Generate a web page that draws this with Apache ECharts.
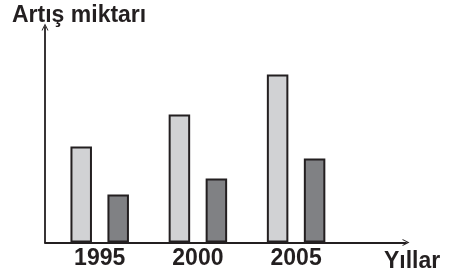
<!DOCTYPE html>
<html>
<head>
    <meta charset="utf-8">
    <title>Artış miktarı</title>
    <script src="https://cdn.jsdelivr.net/npm/echarts@6/dist/echarts.min.js"></script>
    <style>
        html, body { margin: 0; padding: 0; background: #fff; }
        #main { width: 449px; height: 280px; }
    </style>
</head>
<body>
<div id="main"></div>
<script type="text/javascript">
    // data (arbitrary units)
    var years = ['1995', '2000', '2005'];
    var lightValues = [96, 128, 168];
    var darkValues = [48, 64, 84];

    var ink = '#231f20';
    var chevron = 'path://M0,10 L5,0 L10,10 L8.6,10 L5,3 L1.4,10 Z';
    var font = 'Liberation Sans, Arial, sans-serif';

    var myChart = echarts.init(document.getElementById('main'));

    var option = {
        animation: false,
        title: [{
            text: 'Artış miktarı',
            left: 12,
            top: 4,
            padding: 0,
            textStyle: { color: ink, fontSize: 23, fontWeight: 'bold', fontFamily: font }
        }, {
            text: 'Yıllar',
            left: 384,
            top: 250,
            padding: 0,
            textStyle: { color: ink, fontSize: 23, fontWeight: 'bold', fontFamily: font }
        }],
        grid: [{
            // grid holding the bars
            left: 50.6,
            right: 103.8,
            top: 42.5,
            bottom: 37.5
        }, {
            // grid holding the arrowed axes
            left: 45,
            right: 43,
            top: 27,
            bottom: 37.5
        }],
        xAxis: [{
            type: 'category',
            data: years,
            gridIndex: 0,
            axisLine: { show: false },
            axisTick: { show: false },
            axisLabel: {
                margin: 5,
                color: ink,
                fontSize: 23,
                fontWeight: 'bold',
                fontFamily: font
            }
        }, {
            type: 'value',
            gridIndex: 1,
            min: 0,
            max: 1,
            axisLine: {
                show: true,
                symbol: ['none', chevron],
                symbolSize: [9, 7],
                lineStyle: { color: ink, width: 1.8 }
            },
            axisTick: { show: false },
            axisLabel: { show: false },
            splitLine: { show: false }
        }],
        yAxis: [{
            type: 'value',
            gridIndex: 0,
            min: 0,
            max: 200,
            show: false
        }, {
            type: 'value',
            gridIndex: 1,
            min: 0,
            max: 1,
            axisLine: {
                show: true,
                symbol: ['none', chevron],
                symbolSize: [9, 7],
                lineStyle: { color: ink, width: 1.8 }
            },
            axisTick: { show: false },
            axisLabel: { show: false },
            splitLine: { show: false }
        }],
        series: [{
            type: 'bar',
            data: lightValues,
            xAxisIndex: 0,
            yAxisIndex: 0,
            barWidth: 21.5,
            barGap: '72%',
            itemStyle: { color: '#d1d2d4', borderColor: ink, borderWidth: 2 }
        }, {
            type: 'bar',
            data: darkValues,
            xAxisIndex: 0,
            yAxisIndex: 0,
            barWidth: 21.5,
            barGap: '72%',
            itemStyle: { color: '#808184', borderColor: ink, borderWidth: 2 }
        }]
    };

    myChart.setOption(option);
</script>
</body>
</html>
